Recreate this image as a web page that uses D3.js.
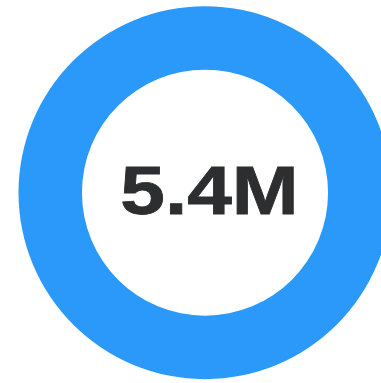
<!DOCTYPE html>
<html><head><meta charset="utf-8">
<script src="https://cdn.jsdelivr.net/npm/d3@7"></script>
<style>html,body{margin:0;padding:0;background:#fff;overflow:hidden}</style>
</head><body>
<svg id="c" width="381" height="383"></svg>
<script>
const categories = ["Total"];
const values = [5400000];
const centerLabels = ["5.4M"];
const colors = ["#2a99fa"];

const svg = d3.select("#c");
const cx = 205, cy = 192.7, outerR = 186.5, innerR = 123;
const g = svg.append("g").attr("transform", `translate(${cx},${cy})`);
const pie = d3.pie().sort(null).value(d => d)(values);
const arc = d3.arc().innerRadius(innerR).outerRadius(outerR);
g.selectAll("path").data(pie).join("path")
  .attr("d", arc)
  .attr("fill", (d, i) => colors[i]);
g.append("g").attr("transform", "translate(4.5,21.5) scale(1.18,1)")
  .append("text")
  .text(centerLabels[0])
  .attr("text-anchor", "middle")
  .attr("font-family", "Liberation Sans, Arial, sans-serif")
  .attr("font-weight", "bold")
  .attr("font-size", 68)
  .attr("fill", "#2d2e30")
  .attr("stroke", "#2d2e30")
  .attr("stroke-width", 0.8);
</script>
</body></html>
